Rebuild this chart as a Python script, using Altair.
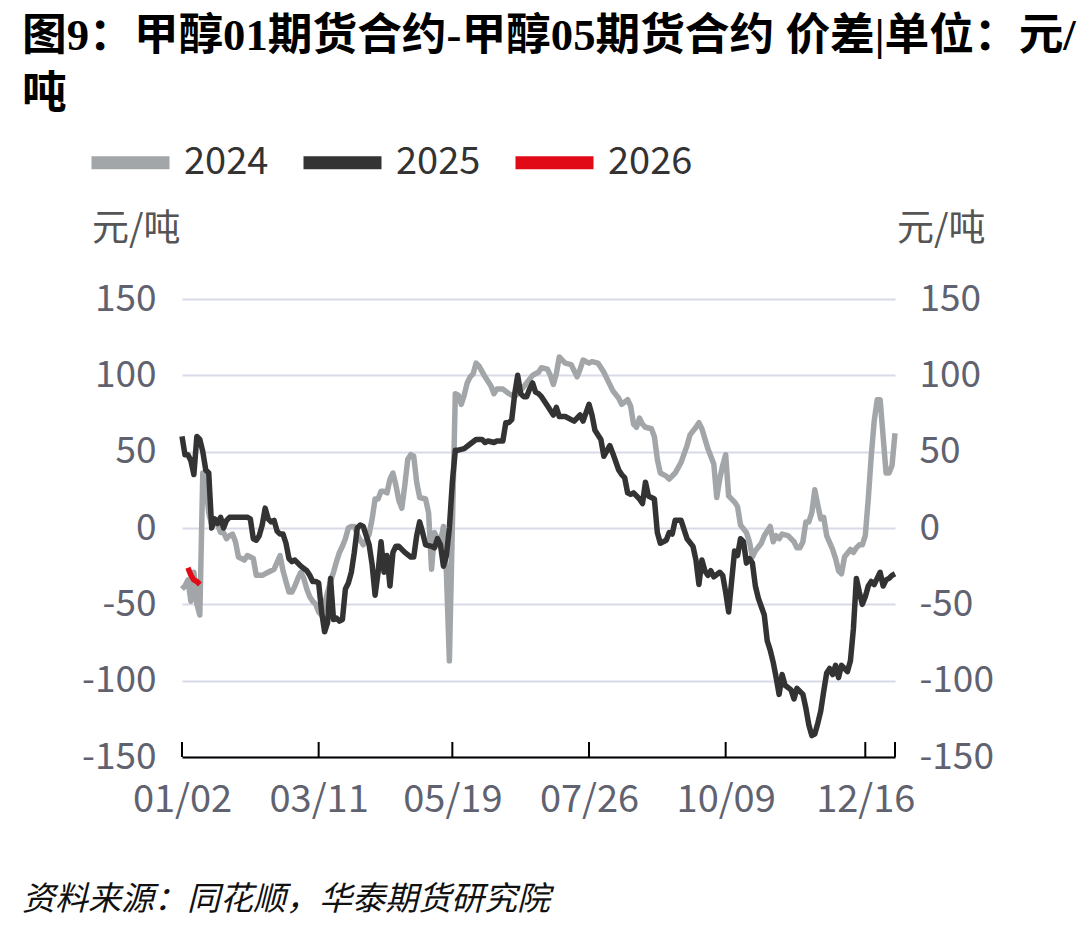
import altair as alt
import pandas as pd

# ---- text ----
title_line1 = "图9：甲醇01期货合约-甲醇05期货合约 价差|单位：元/"
title_line2 = "吨"
source_note = "资料来源：同花顺，华泰期货研究院"
unit_label = "元/吨"

# ---- series meta ----
series_names = ["2024", "2025", "2026"]
series_colors = ["#A3A6A9", "#333333", "#E00B17"]

# ---- x axis: trading-day index with date labels ----
tick_idx = [0, 46, 91, 137, 183, 230]
tick_labels = ["01/02", "03/11", "05/19", "07/26", "10/09", "12/16"]
end_idx = 240
y_ticks = [-150, -100, -50, 0, 50, 100, 150]

# ---- spread series (trading-day index, 元/吨) ----
idx_2024 = [0, 1, 2, 3, 4, 5, 6, 7, 8, 9, 10, 11, 12, 13, 14, 15, 16, 17, 18, 19,
            20, 21, 22, 23, 24, 25, 27, 29, 31, 33, 34, 35, 36, 37, 38, 39, 40, 41,
            42, 43, 44, 45, 46, 47, 48, 49, 50, 51, 52, 53, 54, 55, 56, 57, 58, 59,
            60, 61, 62, 63, 64, 65, 66, 67, 68, 69, 70, 71, 72, 73, 74, 75, 76, 77,
            78, 79, 80, 82, 83, 84, 85, 86, 87, 88, 89, 90, 92, 93, 94, 95, 96, 97,
            98, 99, 100, 102, 104, 105, 106, 108, 110, 112, 114, 116, 118, 119, 120,
            121, 123, 124, 125, 126, 127, 128, 129, 131, 133, 134, 135, 137, 138,
            140, 142, 143, 145, 147, 148, 150, 151, 152, 153, 154, 155, 156, 158,
            159, 160, 161, 163, 164, 166, 168, 170, 171, 173, 174, 175, 177, 179,
            180, 181, 182, 183, 184, 186, 187, 188, 190, 191, 192, 193, 195, 196,
            198, 199, 200, 201, 202, 204, 206, 207, 208, 209, 210, 211, 212, 213,
            214, 215, 216, 217, 219, 220, 221, 222, 223, 225, 226, 227, 228, 229,
            230, 231, 232, 233, 234, 235, 236, 237, 238, 239, 240]
val_2024 = [-40, -38, -34, -48, -29, -50, -57, 36, 28, 10, 2, 4, 2, -3, -3, -7, -5, -4, -9, -19,
            -20, -21, -18, -19, -20, -31, -31, -29, -27, -18, -28, -35, -42, -42, -38, -33, -29, -33,
            -40, -45, -48, -50, -55, -57, -50, -42, -35, -29, -22, -16, -12, -7, 0, 1, 1, -4,
            -8, -11, -8, -4, 6, 19, 19, 24, 24, 23, 32, 36, 28, 18, 13, 28, 45, 48,
            47, 30, 20, 19, 10, -27, -3, -7, -9, 1, -29, -87, 88, 87, 81, 87, 95, 99,
            101, 108, 106, 99, 93, 88, 91, 91, 88, 86, 90, 95, 100, 101, 102,
            105, 104, 100, 94, 101, 112, 110, 108, 107, 99, 104, 110, 108, 109,
            108, 102, 98, 90, 85, 81, 84, 80, 68, 66, 72, 68, 66, 65,
            60, 45, 36, 34, 32, 36, 43, 54, 61, 66, 69, 65, 52, 42,
            20, 32, 41, 48, 21, 17, 14, 2, -3, -9, -19, -15, -10, -5,
            1, -9, -5, -7, -4, -5, -9, -13, -13, -9, 4, 4, 10, 25,
            15, 6, 7, -5, -14, -20, -28, -30, -19, -14, -16, -13, -11, -11,
            -5, 19, 47, 70, 84, 84, 60, 36, 36, 41, 62]

idx_2025 = [0, 1, 2, 3, 4, 5, 6, 7, 8, 9, 10, 11, 12, 13, 14, 15, 16, 18, 20, 22,
            23, 24, 25, 26, 27, 28, 29, 30, 31, 32, 33, 34, 35, 36, 37, 38, 40, 42,
            43, 44, 45, 46, 47, 48, 49, 50, 51, 52, 53, 54, 55, 56, 57, 58, 59, 60,
            61, 63, 64, 65, 66, 67, 68, 69, 70, 71, 72, 73, 75, 77, 78, 79, 80, 81,
            82, 84, 85, 86, 87, 88, 89, 90, 91, 92, 93, 95, 97, 99, 101, 102, 103,
            105, 106, 108, 109, 110, 111, 112, 113, 114, 115, 116, 117, 118, 119,
            120, 121, 123, 125, 126, 127, 129, 131, 132, 134, 135, 137, 138, 139,
            141, 142, 144, 145, 147, 148, 149, 150, 151, 152, 154, 155, 156, 157,
            158, 159, 160, 161, 163, 164, 165, 166, 168, 169, 170, 172, 173, 174,
            175, 176, 177, 178, 179, 181, 182, 183, 184, 185, 186, 187, 188, 189,
            190, 191, 192, 193, 194, 196, 197, 198, 199, 200, 201, 202, 203, 205,
            206, 207, 209, 210, 211, 212, 213, 214, 215, 216, 217, 218, 219, 220,
            221, 222, 224, 225, 226, 227, 228, 229, 230, 231, 232, 233, 234, 235,
            236, 237, 238, 239, 240]
val_2025 = [60, 48, 48, 44, 35, 60, 58, 50, 38, 36, 0, 6, 3, 7, 0, 5, 7, 7, 7, 7,
            6, -7, -8, -5, 2, 13, 6, 4, 5, -2, -4, -4, -10, -20, -22, -21, -25, -28,
            -31, -35, -35, -36, -55, -68, -62, -33, -60, -59, -61, -60, -40, -36, -29, -16, 0, 2,
            1, -11, -24, -44, -29, -9, -29, -18, -38, -16, -12, -12, -16, -19, -19, -5, 4, -3,
            -11, -12, -13, -7, -11, -25, -18, 0, 30, 51, 51, 52, 55, 58, 58, 56, 57,
            56, 57, 57, 69, 69, 71, 88, 100, 88, 86, 86, 91, 95, 89,
            88, 86, 80, 74, 79, 73, 73, 71, 70, 74, 70, 81, 74, 64,
            58, 47, 54, 49, 38, 35, 33, 23, 22, 23, 19, 16, 30, 21,
            20, 19, -3, -10, -8, -3, -4, 5, 5, -1, -7, -12, -21, -37,
            -21, -28, -31, -28, -32, -29, -31, -42, -55, -35, -15, -18, -7, -9,
            -23, -20, -23, -38, -46, -57, -74, -80, -88, -98, -109, -96, -103, -106,
            -112, -105, -109, -118, -129, -136, -135, -128, -120, -107, -95, -92, -96, -90,
            -98, -90, -94, -87, -66, -33, -42, -50, -45, -38, -35, -37, -33, -29,
            -38, -34, -33, -31, -30]

idx_2026 = [2, 3, 4, 5, 6]
val_2026 = [-26, -31, -34, -35, -37]

rows = []
for name, idxs, vals in [("2024", idx_2024, val_2024),
                         ("2025", idx_2025, val_2025),
                         ("2026", idx_2026, val_2026)]:
    rows += [{"year": name, "day": i, "spread": v} for i, v in zip(idxs, vals)]
df = pd.DataFrame(rows)

# ---- layout ----
W, H = 713, 458
PAD = {"left": 182, "top": 299, "right": 183, "bottom": 174}
FONT = "Noto Sans CJK SC"
LABEL_COLOR = "#606270"

label_expr = "''"
for i, lab in reversed(list(zip(tick_idx, tick_labels))):
    label_expr = f"datum.value == {i} ? '{lab}' : ({label_expr})"

x_scale = alt.Scale(domain=[0, end_idx], nice=False, zero=False)
y_scale = alt.Scale(domain=[-150, 150], nice=False, zero=False)

x_axis = alt.Axis(values=tick_idx, labelExpr=label_expr, title=None,
                  ticks=False, grid=False, domain=True,
                  domainColor="#000000", domainWidth=2,
                  labelFont=FONT, labelFontSize=38, labelColor=LABEL_COLOR,
                  labelPadding=24, labelFlush=False, labelOverlap=False)

lines = alt.Chart(df).mark_line(strokeWidth=5.5, strokeJoin="round").encode(
    x=alt.X("day:Q", scale=x_scale, axis=x_axis),
    y=alt.Y("spread:Q", scale=y_scale,
            axis=alt.Axis(values=y_ticks, orient="left", title=None,
                          domain=False, ticks=False, grid=True,
                          gridColor="#D8DBE7", gridWidth=2,
                          labelExpr="datum.value + ''",
                          labelFont=FONT, labelFontSize=37, labelColor=LABEL_COLOR,
                          labelPadding=26)),
    color=alt.Color("year:N",
                    scale=alt.Scale(domain=series_names, range=series_colors),
                    legend=alt.Legend(orient="none", legendX=-97, legendY=-182,
                                      direction="horizontal", title=None,
                                      symbolType="stroke", symbolSize=6084,
                                      symbolStrokeWidth=13, labelFont=FONT,
                                      labelFontSize=38, labelColor="#333333",
                                      labelOffset=8, columnPadding=8, padding=0)),
)

right_axis = alt.Chart(df).mark_point(opacity=0).encode(
    x=alt.X("day:Q", scale=x_scale, axis=x_axis),
    y=alt.Y("spread:Q", scale=y_scale,
            axis=alt.Axis(values=y_ticks, orient="right", title=None,
                          domain=False, ticks=False, grid=False,
                          labelExpr="datum.value + ''",
                          labelFont=FONT, labelFontSize=37, labelColor=LABEL_COLOR,
                          labelPadding=24)),
)

ticks = alt.Chart(pd.DataFrame({"day": tick_idx + [end_idx]})).mark_rule(
    color="#000000", strokeWidth=2
).encode(
    x=alt.X("day:Q", scale=x_scale, axis=x_axis),
    y=alt.value(H - 15),
    y2=alt.value(H),
)


def text_layer(txt, x, y, size, color, weight="normal", style="normal", font=FONT):
    return alt.Chart(pd.DataFrame({"t": [txt]})).mark_text(
        align="left", baseline="middle", font=font, fontSize=size,
        color=color, fontWeight=weight, fontStyle=style
    ).encode(text="t:N", x=alt.value(x), y=alt.value(y))


TITLE_FONT = "Liberation Serif, Noto Sans CJK SC"
title1 = text_layer(title_line1, -160, -262, 44.7, "#000000", weight="bold", font=TITLE_FONT)
title2 = text_layer(title_line2, -160, -204, 44.7, "#000000", weight="bold", font=TITLE_FONT)
unit_left = text_layer(unit_label, -90, -69, 37, "#555555")
unit_right = text_layer(unit_label, 715, -69, 37, "#555555")
source = text_layer(source_note, -160, 601, 33, "#111111", style="italic")

chart = alt.layer(
    lines, right_axis, ticks, title1, title2, unit_left, unit_right, source
).resolve_axis(y="independent").properties(
    width=W, height=H, padding=PAD,
    autosize=alt.AutoSizeParams(type="none"),
).configure_view(stroke=None)

chart.save("out.html", embed_options={"renderer": "svg", "actions": False})
